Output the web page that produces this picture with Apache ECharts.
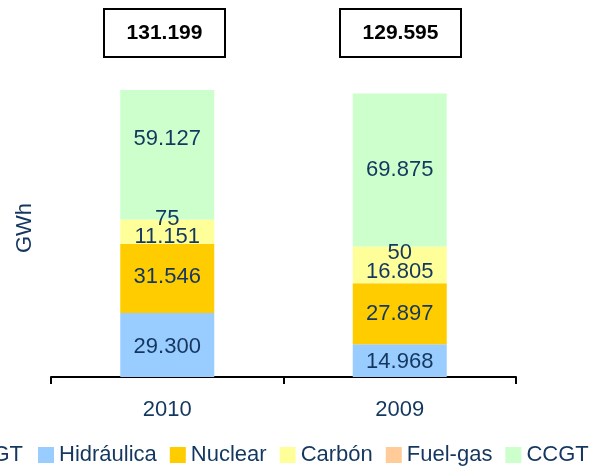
<!DOCTYPE html>
<html>
<head>
<meta charset="utf-8">
<script src="https://cdn.jsdelivr.net/npm/echarts@6/dist/echarts.min.js"></script>
<style>
  html, body { margin: 0; padding: 0; background: #fff; }
  #chart { width: 594px; height: 466px; }
</style>
</head>
<body>
<div id="chart"></div>
<script>
// datos (GWh)
const years = ['2010', '2009'];
const hidraulica = [29300, 14968];
const nuclear = [31546, 27897];
const carbon = [11151, 16805];
const fuelgas = [75, 50];
const ccgt = [59127, 69875];

const navy = '#14375F';
const font = '"Liberation Sans", Arial, sans-serif';

// 131199 -> "131.199"
function fmt(v) {
  return String(v).replace(/\B(?=(\d{3})+(?!\d))/g, '.');
}

// totales encima de cada barra
const totals = years.map((y, i) => hidraulica[i] + nuclear[i] + carbon[i] + fuelgas[i] + ccgt[i]);

function serie(name, data, color, shifts) {
  return {
    name: name,
    type: 'bar',
    stack: 'total',
    barWidth: 94,
    itemStyle: { color: color },
    data: data.map((v, i) => ({
      value: v,
      label: { offset: [0, shifts[i] + 1.5] }
    })),
    label: {
      show: true,
      position: 'inside',
      color: navy,
      fontFamily: font,
      fontSize: 22,
      formatter: p => fmt(p.value)
    }
  };
}

let myChart = echarts.init(document.getElementById('chart'));

myChart.setOption({
  animation: false,
  grid: { left: 51, right: 78, top: 49, bottom: 89 },
  legend: {
    left: 38,
    top: 444,
    width: 560,
    padding: 0,
    itemWidth: 16,
    itemHeight: 16,
    itemGap: 13,
    icon: 'rect',
    textStyle: { color: navy, fontFamily: font, fontSize: 22 },
    data: ['Hidráulica', 'Nuclear', 'Carbón', 'Fuel-gas', 'CCGT']
  },
  xAxis: {
    type: 'category',
    data: years,
    axisLine: { lineStyle: { color: '#000', width: 2 } },
    axisTick: { show: true, length: 7, lineStyle: { color: '#000', width: 2 } },
    axisLabel: { color: navy, fontFamily: font, fontSize: 22, margin: 22 }
  },
  yAxis: {
    type: 'value',
    min: 0,
    max: 150000,
    show: false,
    splitLine: { show: false }
  },
  series: [
    serie('Hidráulica', hidraulica, '#99CCFF', [0, 0]),
    serie('Nuclear', nuclear, '#FFCC00', [-3, -1]),
    serie('Carbón', carbon, '#FFFF99', [4, 6]),
    serie('Fuel-gas', fuelgas, '#FFCC99', [-2, 5]),
    serie('CCGT', ccgt, '#CCFFCC', [-17, -2])
  ],
  graphic: [
    {
      type: 'text',
      x: 25, y: 228,
      rotation: Math.PI / 2,
      style: { text: 'GWh', fill: navy, font: '22px ' + font, align: 'center', verticalAlign: 'middle' }
    },
    {
      // resto de la leyenda, cortada por la izquierda
      type: 'text',
      x: 23, y: 455,
      style: { text: 'CCGT', fill: navy, font: '22px ' + font, align: 'right', verticalAlign: 'middle' }
    },
    {
      type: 'group',
      x: 104, y: 9,
      children: [
        { type: 'rect', shape: { x: 0, y: 0, width: 121, height: 48 },
          style: { fill: '#fff', stroke: '#000', lineWidth: 2 } },
        { type: 'text', x: 60.5, y: 24,
          style: { text: fmt(totals[0]), fill: '#000', font: 'bold 21px ' + font, align: 'center', verticalAlign: 'middle' } }
      ]
    },
    {
      type: 'group',
      x: 340, y: 9,
      children: [
        { type: 'rect', shape: { x: 0, y: 0, width: 121, height: 48 },
          style: { fill: '#fff', stroke: '#000', lineWidth: 2 } },
        { type: 'text', x: 60.5, y: 24,
          style: { text: fmt(totals[1]), fill: '#000', font: 'bold 21px ' + font, align: 'center', verticalAlign: 'middle' } }
      ]
    }
  ]
});
</script>
</body>
</html>
